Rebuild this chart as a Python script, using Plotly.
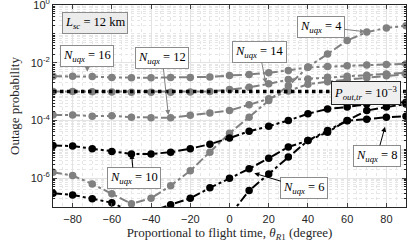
import math
import plotly.graph_objects as go

# ---------------- data ----------------
theta = [-90, -80, -70, -60, -50, -40, -30, -20, -10, 0, 10, 20, 30, 40, 50, 60, 70, 80, 90]

n16 = [3.4e-3, 3.4e-3, 3.3e-3, 3.1e-3, 3.0e-3, 3.0e-3, 3.1e-3, 3.1e-3, 3.2e-3, 3.6e-3,
       3.9e-3, 4.5e-3, 5.4e-3, 6.9e-3, 7.4e-3, 7.9e-3, 8.3e-3, 8.7e-3, 9.1e-3]
n14 = [1.0e-3, 1.0e-3, 0.98e-3, 0.97e-3, 0.95e-3, 0.95e-3, 0.95e-3, 0.97e-3, 1.0e-3, 1.17e-3,
       1.4e-3, 1.85e-3, 2.6e-3, 2.75e-3, 3.15e-3, 3.4e-3, 3.7e-3, 4.1e-3, 4.5e-3]
n12 = [1.55e-4, 1.55e-4, 1.4e-4, 1.45e-4, 1.3e-4, 1.25e-4, 1.23e-4, 1.5e-4, 1.8e-4, 2.2e-4,
       3.5e-4, 5.6e-4, 1.05e-3, 1.8e-3, 2.2e-3, 2.6e-3, 3.0e-3, 3.5e-3, 3.9e-3]
n4 = [1.6e-6, 1.23e-6, 6.3e-7, 2.9e-7, 1.3e-7, 2.0e-7, 5.5e-7, 1.8e-6, 7.9e-6, 3.6e-5,
      1.3e-4, 4.9e-4, 1.6e-3, 7.1e-3, 2.0e-2, 5.9e-2, 0.115, 0.16, 0.19]
n10 = [1.35e-5, 1.3e-5, 1.05e-5, 8.3e-6, 6.9e-6, 6.9e-6, 7.9e-6, 1.05e-5, 1.5e-5, 2.45e-5,
       4.2e-5, 6.3e-5, 1.0e-4, 1.7e-4, 2.5e-4, 2.9e-4, 3.7e-4, 4.0e-4, 4.3e-4]
n6 = [3.0e-7, 2.6e-7, 1.95e-7, 1.4e-7, 7e-8, 7e-8, 1.2e-7, 2.0e-7, 4.6e-7, 1.0e-6,
      2.1e-6, 4.9e-6, 1.2e-5, 2.0e-5, 3.9e-5, 1.0e-4, 2.2e-4, 2.9e-4, 3.7e-4]
n8 = [None, None, None, None, None, None, None, None, None, 5e-8,
      3.7e-7, 1.4e-6, 5.4e-6, 2.0e-5, 4.5e-5, 9.8e-5, 1.1e-4, 1.3e-4, 1.4e-4]

p_threshold = 1e-3

x_ticks = [-80, -60, -40, -20, 0, 20, 40, 60, 80]
y_ticks = [1e-6, 1e-4, 1e-2, 1e0]
y_ticktext = ["10<sup>-6</sup>", "10<sup>-4</sup>", "10<sup>-2</sup>", "10<sup>0</sup>"]

# label annotations: N value, tip theta, tip probability
label_n = [16, 12, 14, 4, 10, 8, 6]
label_tip_theta = [-72.5, -31.2, 18.5, 69.1, -49.9, 79.3, 12.65]
label_tip_prob = [4.9e-3, 1.55e-4, 1.95e-3, 0.119, 6.9e-6, 6.0e-5, 1.48e-6]

# ---------------- style ----------------
GRAY = "#808080"
BLACK = "#000000"
SERIF = "Liberation Serif"
SANS = "Liberation Sans"

fig = go.Figure()

series = [
    (n16, GRAY), (n14, GRAY), (n12, GRAY), (n4, GRAY),
    (n10, BLACK), (n6, BLACK), (n8, BLACK),
]
for vals, col in series:
    fig.add_trace(go.Scatter(
        x=theta, y=vals, mode="lines+markers",
        line=dict(color=col, width=2, dash="dashdot"),
        marker=dict(color=col, size=7.5, symbol="circle"),
        connectgaps=False, showlegend=False, hoverinfo="skip",
    ))

fig.add_trace(go.Scatter(
    x=[theta[0], theta[-1]], y=[p_threshold, p_threshold], mode="lines",
    line=dict(color=BLACK, width=3.5, dash="dot"), showlegend=False, hoverinfo="skip",
))

minor_vals = []
for e in range(-7, 0):
    for k in range(1, 10):
        v = k * 10.0 ** e
        if v not in y_ticks:
            minor_vals.append(v)

fig.update_xaxes(
    range=[-90, 90], tickvals=x_ticks, ticks="inside", ticklen=4,
    showline=True, linecolor="#262626", linewidth=1, mirror="ticks",
    showgrid=True, gridcolor="#e3e3e3", gridwidth=1, zeroline=False,
    tickfont=dict(family=SANS, size=11, color="#262626"),
    ticklabelstandoff=2, automargin=False, ticklabeloverflow="allow",
    minor=dict(dtick=5, showgrid=True, gridcolor="#e6e6e6", griddash="dot", ticks=""),
    title=dict(text="Proportional to flight time, <i>θ</i><sub><i>R</i>1</sub> (degree)",
               font=dict(family=SERIF, size=13, color="#262626"), standoff=2),
)
fig.update_yaxes(
    type="log", range=[-7, 0], tickvals=y_ticks, ticktext=y_ticktext,
    ticks="inside", ticklen=4,
    showline=True, linecolor="#262626", linewidth=1, mirror="ticks",
    showgrid=True, gridcolor="#e3e3e3", gridwidth=1, zeroline=False,
    tickfont=dict(family=SANS, size=11, color="#262626"),
    automargin=False, ticklabeloverflow="allow",
    minor=dict(tickvals=minor_vals, showgrid=True, gridcolor="#e6e6e6",
               griddash="dot", ticks="inside", ticklen=2, tickcolor="#262626"),
    title=dict(text="Outage probability",
               font=dict(family=SERIF, size=13, color="#262626"), standoff=8),
)

def nlabel(v):
    return "<i>N</i><sub><i>uqx</i></sub> = %d" % v

ann_font = dict(family=SERIF, size=12.5, color="#000000")

# pixel offsets of label boxes from arrow tips (layout, not data)
offsets = [(0, -16), (-6, -57), (-6, -31), (-44, -5), (2, 24), (-8, 29), (50, 15)]
colors = [GRAY, GRAY, GRAY, GRAY, BLACK, BLACK, BLACK]
for v, tx, tp, (ax, ay), col in zip(label_n, label_tip_theta, label_tip_prob, offsets, colors):
    fig.add_annotation(x=tx, y=math.log10(tp), text=nlabel(v), ax=ax, ay=ay,
                       axref="pixel", ayref="pixel",
                       showarrow=True, arrowhead=2, arrowsize=1, arrowwidth=1,
                       arrowcolor=col, font=ann_font, bordercolor="#8c8c8c",
                       borderwidth=1, borderpad=2, bgcolor="#ffffff")

fig.add_annotation(xref="paper", yref="paper", x=0.119, y=0.913,
                   xanchor="center", yanchor="middle",
                   text="<i>L</i><sub><i>sc</i></sub> = 12 km", showarrow=False,
                   font=ann_font, bordercolor="#8c8c8c", borderwidth=1, borderpad=2,
                   bgcolor="#ececec")
fig.add_annotation(xref="paper", yref="paper", x=0.887, y=0.562,
                   xanchor="center", yanchor="middle",
                   text="<i>P</i><sub><i>out,tr</i></sub> = 10<sup>−3</sup>", showarrow=False,
                   font=ann_font, bordercolor="#262626", borderwidth=1, borderpad=2,
                   bgcolor="#efefef")

fig.update_layout(
    width=415, height=243,
    margin=dict(l=53, r=9, t=5, b=36, autoexpand=False),
    paper_bgcolor="#ffffff", plot_bgcolor="#ffffff",
    showlegend=False, hovermode=False,
)

fig.write_html("out.html", config={"displayModeBar": False, "staticPlot": True},
               post_script="document.body.style.margin='0';document.body.style.overflow='hidden';")
